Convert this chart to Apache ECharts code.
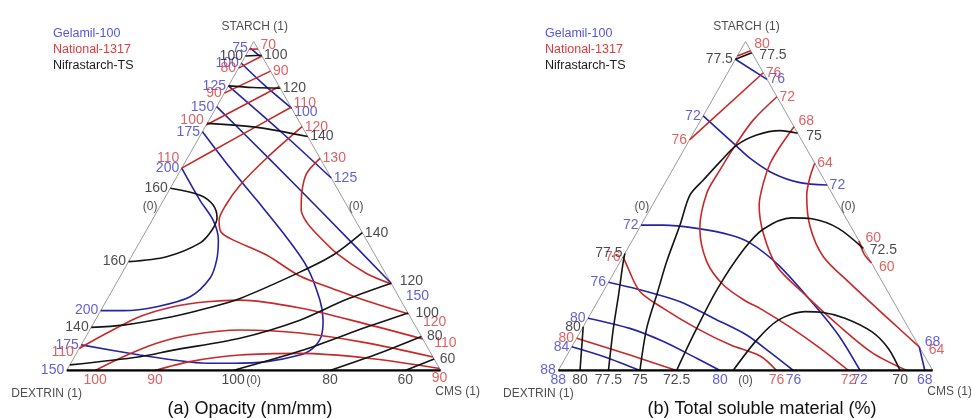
<!DOCTYPE html>
<html><head><meta charset="utf-8">
<script src="https://cdn.jsdelivr.net/npm/echarts/dist/echarts.min.js"></script>
<style>html,body{margin:0;padding:0;background:#fff}#c{width:971px;height:419px}</style>
</head><body><div id="c"></div>
<script>
// Every point is [CMS %, STARCH %]; DEXTRIN % = 100 - CMS - STARCH
const seriesNames = ['Gelamil-100', 'National-1317', 'Nifrastarch-TS'];
const panelTitles = ['(a) Opacity (nm/mm)', '(b) Total soluble material (%)'];
const vertexNames = ['STARCH (1)', 'DEXTRIN (1)', 'CMS (1)'];
const edgeZeroText = '(0)';

// ---- (a) Opacity ----
const opacityGelamil = [
  {level:'75',  labelAt:'start', pts:[[0.1,98.0],[4.1,95.4]]},
  {level:'100', labelAt:'both',  pts:[[0,93.4],[9.4,86.8],[20.3,79.7]]},
  {level:'125', labelAt:'both',  pts:[[0,86.5],[21.1,72.5],[41.5,58.5]]},
  {level:'150', labelAt:'both',  pts:[[0,80.2],[21.5,64.7],[43.3,48.8],[73.5,26.5]]},
  {level:'175', labelAt:'both',  pts:[[0,72.6],[12.9,61.6],[24.9,51.8],[37.1,41.7],[48.4,31.6],[57.0,21.4],[60.9,15.3],[62.9,10.2],[62.3,6.5],[60.0,4.7],[52.1,2.7],[43.5,2.2],[36.3,2.2],[26.9,3.2],[17.2,4.7],[0,7.8]]},
  {level:'200', labelAt:'both',  pts:[[0,61.5],[9.7,51.8],[16.3,45.7],[20.7,39.7],[23.3,33.6],[24.3,28.1],[21.8,22.4],[14.4,19.4],[6.0,18.2],[0,18.2]]},
  {level:'150', labelAt:'start', pts:[[0,0]]}
];
const opacityNational = [
  {level:'70',  labelAt:'end',   pts:[[0,97.6],[2.3,97.7]]},
  {level:'80',  labelAt:'start', pts:[[0,91.9],[4.4,95.6]]},
  {level:'90',  labelAt:'both',  pts:[[0,84.3],[9.0,91.0]]},
  {level:'100', labelAt:'start', pts:[[0,74.6],[13.7,86.3]]},
  {level:'110', labelAt:'both',  pts:[[0,61.5],[9.9,70.7],[20.0,80.0]]},
  {level:'120', labelAt:'both',  pts:[[25.9,74.1],[21.2,64.6],[18.2,56.4],[17.4,50.3],[17.9,45.7],[20.2,42.1],[24.6,39.7],[35.9,35.1],[48.0,28.7],[58.9,24.8],[69.7,21.1],[82.8,17.2]]},
  {level:'130', labelAt:'start', pts:[[35.5,64.5],[34.2,59.9],[35.9,53.9],[38.3,48.8],[41.6,45.1],[46.1,41.5],[54.4,35.6],[65.4,29.5],[73.7,26.3]]},
  {level:'110', labelAt:'both',  pts:[[0,6.7],[5.0,11.3],[11.4,16.4],[18.8,19.4],[27.0,20.9],[35.6,21.4],[52.9,19.0],[73.1,14.1],[90.4,9.6]]},
  {level:'100', labelAt:'start', pts:[[7.6,0],[13.0,4.2],[19.9,8.3],[27.6,10.8],[40.2,12.3],[56.7,11.4],[76.0,8.4],[95.9,4.1]]},
  {level:'90',  labelAt:'both',  pts:[[23.6,0],[31.6,2.7],[44.0,4.7],[59.8,5.2],[78.3,3.8],[99.4,0.6]]}
];
const opacityNifrastarch = [
  {level:'100', labelAt:'both',  pts:[[0,95.6],[4.2,95.8]]},
  {level:'120', labelAt:'end',   pts:[[0,86.5],[6.8,86.0],[14.2,85.8]]},
  {level:'140', labelAt:'end',   pts:[[0,75.1],[13.9,73.9],[28.9,71.1]]},
  {level:'160', labelAt:'both',  pts:[[0,55.4],[9.0,53.3],[14.0,50.3],[17.0,46.4],[17.5,42.7],[16.3,38.8],[9.4,34.6],[0,33.1]]},
  {level:'140', labelAt:'both',  pts:[[0,13.1],[8.2,13.8],[20.3,16.4],[28.0,18.9],[35.4,21.9],[47.4,29.9],[53.7,35.1],[58.1,41.9]]},
  {level:'120', labelAt:'end',   pts:[[0,1.7],[17.5,4.2],[25.4,6.2],[41.4,9.8],[54.7,15.3],[63.7,21.4],[73.5,26.5]]},
  {level:'100', labelAt:'both',  pts:[[44.5,0],[59.4,5.9],[73.6,13.2],[82.5,17.5]]},
  {level:'80',  labelAt:'both',  pts:[[70.4,0],[81.1,5.3],[89.7,10.3]]},
  {level:'60',  labelAt:'both',  pts:[[90.5,0],[96.5,3.5]]}
];

// ---- (b) Total soluble material ----
const solubleGelamil = [
  {level:'76', labelAt:'end',   pts:[[0,94.6],[11.5,88.5]]},
  {level:'72', labelAt:'both',  pts:[[0,77.4],[12.2,69.1],[19.0,64.5],[27.5,59.9],[36.0,57.1],[43.6,56.4]]},
  {level:'72', labelAt:'both',  pts:[[0,44.2],[5.9,44.2],[15.4,43.2],[25.3,41.2],[31.8,38.8],[42.7,32.1],[57.2,20.9],[69.4,10.8],[80.6,0]]},
  {level:'76', labelAt:'both',  pts:[[0,26.8],[11.6,24.0],[22.1,20.9],[33.5,15.9],[44.9,10.8],[53.7,5.6],[62.8,0]]},
  {level:'80', labelAt:'both',  pts:[[0,15.9],[12.7,12.8],[23.7,8.8],[35.1,3.7],[43.2,0]]},
  {level:'84', labelAt:'start', pts:[[0,7.2],[10.4,4.1],[21.8,0]]},
  {level:'88', labelAt:'both',  pts:[[0,0],[0,0]]},
  {level:'68', labelAt:'both',  pts:[[92.8,7.2],[97.9,0]]}
];
const solubleNational = [
  {level:'80', labelAt:'end',   pts:[[0,95.6],[2.8,97.2]]},
  {level:'76', labelAt:'both',  pts:[[0,70.1],[9.5,90.5]]},
  {level:'72', labelAt:'both',  pts:[[16.8,83.2],[14.0,76.1],[13.1,69.1],[12.7,60.9],[12.7,53.9],[16.2,43.2],[23.1,33.1],[31.1,26.0],[39.9,20.9],[44.4,18.9],[55.3,13.2],[66.5,6.8],[77.5,0]]},
  {level:'68', labelAt:'start', pts:[[25.9,74.1],[25.2,68.0],[25.1,63.0],[26.3,56.9],[28.5,50.3],[33.9,41.7],[42.6,31.6],[53.7,23.5],[68.6,13.3],[81.5,5.2],[93.1,0]]},
  {level:'64', labelAt:'both',  pts:[[37.0,63.0],[37.8,58.9],[39.7,53.3],[45.4,43.7],[53.5,34.6],[64.7,26.5],[80.9,15.3],[92.8,7.2]]},
  {level:'60', labelAt:'both',  pts:[[60.6,39.4],[64.0,35.4],[67.3,32.7]]},
  {level:'76', labelAt:'both',  pts:[[0,34.6],[2.2,32.1],[9.8,24.0],[18.6,18.9],[30.6,12.8],[42.0,7.8],[51.7,4.4],[58.3,0]]},
  {level:'80', labelAt:'start', pts:[[0,9.8],[16.8,4.7],[31.6,0]]}
];
const solubleNifrastarch = [
  {level:'77.5', labelAt:'both', pts:[[0,94.6],[3.4,96.6]]},
  {level:'75',   labelAt:'both', pts:[[21.8,0],[17.2,12.8],[14.8,23.0],[12.4,33.1],[10.4,44.2],[8.5,53.3],[9.8,57.9],[11.5,63.5],[13.4,68.5],[17.2,71.6],[22.8,72.9],[27.9,72.1]]},
  {level:'72.5', labelAt:'both', pts:[[31.6,0],[30.7,10.8],[30.1,24.5],[31.1,36.6],[33.3,43.0],[39.1,46.4],[44.7,46.1],[53.2,43.2],[62.9,37.1]]},
  {level:'70',   labelAt:'end',  pts:[[46.7,0],[48.4,9.3],[51.1,15.3],[57.0,17.9],[61.5,17.7],[68.6,15.9],[77.8,11.8],[84.8,6.7],[91.3,0]]},
  {level:'77.5', labelAt:'both', pts:[[13.4,0],[8.3,12.8],[4.6,23.0],[0.8,33.1],[0,35.6]]},
  {level:'80',   labelAt:'both', pts:[[5.8,0],[0,13.3]]}
];

// ---------- drawing ----------
const FONT = 'Liberation Sans, Arial, Helvetica, sans-serif';
const lineColors = ['#2323a8', '#c92828', '#141414'];
const textColors = ['#3a3ac8', '#d83a3a', '#1c1c1c'];
const legendColors = ['#5656d8', '#e03a3a', '#1c1c1c'];
// label side overrides and small pixel nudges, keyed panel|group|line index
const sideOverrides = {'b|0|6': ['left', 'bottom']};
const labelNudges = {
  'a|0|1': [null, [0, 4]],
  'a|0|3': [null, [12, 13]],
  'a|1|0': [[0, -4]],
  'a|1|3': [[0, -5]],
  'a|1|4': [[0, -10], [0, -4]],
  'a|1|5': [null, [12, 8]],
  'a|1|7': [[-3, 4], [9, 4]],
  'a|2|5': [[6, -2]],
  'a|2|6': [null, [5, 0]],
  'a|2|7': [null, [3, 0]],
  'a|2|8': [null, [3, 0]],
  'b|1|0': [[1, -7]],
  'b|2|0': [null, [5, 2]],
  'b|1|3': [[2, -6]],
  'b|2|1': [null, [6, 3]],
  'b|0|7': [[3, -5]],
  'b|1|4': [null, [7, 3]],
  'b|1|5': [[4, -3], [5, 4]],
  'b|2|2': [null, [4, 2]]
};

function tern(p) { return [p[0] / 100 + p[1] / 200, p[1] / 100]; }
function side(p) {
  const c = p[0], s = p[1];
  if (s < 1 && c < 1) return 'left';
  if (s < 1) return 'bottom';
  if (c < 1) return 'left';
  return 'right';
}

const panels = [
  {key:'a', groups:[opacityGelamil, opacityNational, opacityNifrastarch]},
  {key:'b', groups:[solubleGelamil, solubleNational, solubleNifrastarch]}
];
const grids = [
  {left:66.7, top:41.5, width:374, height:329},
  {left:558.3, top:41.5, width:374.4, height:329}
];

const series = [];
panels.forEach((pn, pi) => {
  const ax = {xAxisIndex:pi, yAxisIndex:pi};
  series.push(Object.assign({type:'line', data:[[0,0],[0,100],[100,0]].map(tern), symbol:'none',
    lineStyle:{color:'#9c9c9c', width:1}, silent:true, z:1}, ax));
  pn.groups.forEach((g, gi) => {
    const labelData = [];
    g.forEach((ln, li) => {
      series.push(Object.assign({type:'line', name:seriesNames[gi], data:ln.pts.map(tern), smooth:0.3,
        symbol:'none', lineStyle:{color:lineColors[gi], width:1.6}, silent:true, z:3}, ax));
      const ends = [];
      if (ln.labelAt === 'start' || ln.labelAt === 'both') ends.push(0);
      if (ln.labelAt === 'end' || ln.labelAt === 'both') ends.push(ln.pts.length - 1);
      const key = pn.key + '|' + gi + '|' + li;
      const ov = sideOverrides[key];
      const nd = labelNudges[key];
      ends.forEach((idx, k) => {
        const p = ln.pts[idx];
        const nudgeIdx = (ln.labelAt === 'end') ? 0 : k;
        const off = nd && nd[nudgeIdx] ? nd[nudgeIdx] : [0, 0];
        labelData.push({value:tern(p), label:{position: ov ? ov[k] : side(p), formatter: ln.level, offset: off}});
      });
    });
    series.push(Object.assign({type:'scatter', name:seriesNames[gi], symbol:'circle', symbolSize:1,
      itemStyle:{color:'rgba(0,0,0,0)'}, data:labelData,
      label:{show:true, color:textColors[gi], fontSize:14, fontFamily:FONT, distance:2}, silent:true, z:6}, ax));
  });
  series.push(Object.assign({type:'line', data:[[0,0],[100,0]].map(tern), symbol:'none',
    lineStyle:{color:'#000', width:2.5}, silent:true, z:5}, ax));
  series.push(Object.assign({type:'scatter', symbol:'circle', symbolSize:1, itemStyle:{color:'rgba(0,0,0,0)'},
    silent:true, z:6,
    label:{show:true, color:'#222', fontSize:12, fontFamily:FONT},
    data:[
      {value:tern([0,100]), label:{formatter:vertexNames[0], position:'top', distance:8, offset:[1,0]}},
      {value:tern([0,0]),   label:{formatter:vertexNames[1], position:'inside', offset:[-20,23]}},
      {value:tern([100,0]), label:{formatter:vertexNames[2], position:'inside', offset:[17,21]}},
      {value:tern([0,50]),  label:{formatter:edgeZeroText, position:'inside', offset:[-10,1]}},
      {value:tern([50,50]), label:{formatter:edgeZeroText, position:'inside', offset:[9,1]}},
      {value:tern([50,0]),  label:{formatter:edgeZeroText, position:'inside', offset:[0,10]}}
    ]}, ax));
});

const chart = echarts.init(document.getElementById('c'), null, {renderer:'canvas'});
chart.setOption({
  animation:false,
  backgroundColor:'#fff',
  grid: grids.map(g => Object.assign({containLabel:false}, g)),
  xAxis: grids.map((g, i) => ({type:'value', gridIndex:i, min:0, max:1, show:false})),
  yAxis: grids.map((g, i) => ({type:'value', gridIndex:i, min:0, max:1, show:false})),
  legend: [43, 535].map(left => ({
    left:left, top:22, orient:'vertical', icon:'none', itemWidth:0, itemHeight:14, itemGap:2,
    selectedMode:false,
    textStyle:{fontSize:12.5, fontFamily:FONT, lineHeight:14},
    data: seriesNames.map((n, i) => ({name:n, textStyle:{color:legendColors[i]}}))
  })),
  graphic: [
    {type:'text', x:250, y:409, style:{text:panelTitles[0], font:'18px ' + FONT, fill:'#111',
      align:'center', verticalAlign:'middle', textAlign:'center', textVerticalAlign:'middle'}},
    {type:'text', x:762, y:409, style:{text:panelTitles[1], font:'18px ' + FONT, fill:'#111',
      align:'center', verticalAlign:'middle', textAlign:'center', textVerticalAlign:'middle'}}
  ],
  series: series
});
</script>
</body></html>
